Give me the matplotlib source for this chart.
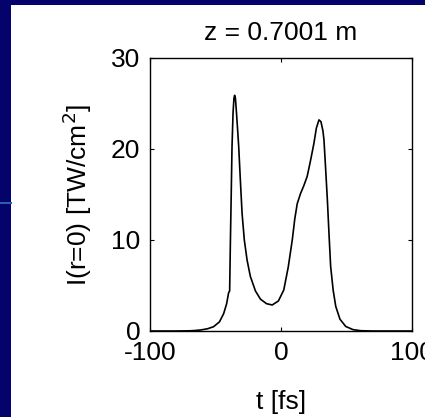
import matplotlib
matplotlib.use('Agg')
import matplotlib.pyplot as plt
from matplotlib.lines import Line2D

plt.rcParams['font.family'] = ['Liberation Sans', 'DejaVu Sans']
plt.rcParams['axes.unicode_minus'] = False

# On-axis intensity vs time
t_fs = [-100, -80, -70, -65, -61, -56, -51.5, -47, -43.8, -41.5, -40, -39.2,
        -38.7, -38, -37.4, -36.6, -35.9, -35.4, -34.8, -34, -33.2, -32.3,
        -31, -29.7, -28, -25.9, -23.4, -19.5, -15.7, -11, -6.7, -2, 2.1,
        5.5, 8.6, 10.5, 12.4, 14.9, 17.5, 20, 22.5, 25.1, 27, 29, 30.5,
        32, 32.8, 34, 35.4, 36.7, 37.9, 39.8, 41.8, 45, 49.4, 55, 61, 70,
        85, 100]
intensity = [0, 0, 0.02, 0.06, 0.12, 0.25, 0.47, 1.0, 1.9, 3.0, 4.2, 4.4,
             9.2, 15.0, 20.2, 24.0, 25.6, 25.9, 25.6, 24.0, 22.3, 20.3,
             16.5, 12.9, 10.0, 7.8, 6.0, 4.4, 3.5, 3.0, 2.86, 3.3, 4.5,
             7.0, 10.0, 12.3, 14.0, 15.1, 16.0, 17.0, 18.7, 20.6, 22.3,
             23.2, 23.0, 22.0, 21.0, 18.0, 14.4, 10.5, 7.1, 4.5, 2.7, 1.3,
             0.5, 0.15, 0.03, 0, 0, 0]

title = 'z = 0.7001 m'
xlabel = 't [fs]'
ylabel = 'I(r=0) [TW/cm$^2$]'
xticks = [-100, 0, 100]
yticks = [0, 10, 20, 30]

fig = plt.figure(figsize=(4.25, 4.17), dpi=100)
fig.patch.set_facecolor('#03036b')

# white slide panel behind the plot
bg = fig.add_axes([11 / 425, 0, 1 - 11 / 425, 412 / 417], zorder=0)
bg.set_facecolor('white')
bg.set_xticks([])
bg.set_yticks([])
for s in bg.spines.values():
    s.set_visible(False)
# faint decorative line on the dark strip
fig.add_artist(Line2D([0, 11 / 425], [1 - 203 / 417, 1 - 203 / 417],
                      transform=fig.transFigure, color='#2c5cb0', lw=1.5))

ax = fig.add_axes([150 / 425, 1 - 331 / 417, 262 / 425, 273 / 417], zorder=1)
ax.plot(t_fs, intensity, color='black', linewidth=1.2)
ax.set_xlim(-100, 100)
ax.set_ylim(0, 30)
ax.set_xticks(xticks)
ax.set_yticks(yticks)
ax.tick_params(direction='in', length=3, top=True, right=True, labelsize=19,
               width=0.8)
ax.tick_params(axis='x', pad=7)
ax.tick_params(axis='y', pad=7)
for s in ax.spines.values():
    s.set_linewidth(1.0)
ax.set_title(title, fontsize=19, pad=13)
ax.set_xlabel(xlabel, fontsize=19, labelpad=18)
ax.set_ylabel(ylabel, fontsize=19, labelpad=12)

fig.savefig('out.png', dpi=100, facecolor=fig.get_facecolor())
